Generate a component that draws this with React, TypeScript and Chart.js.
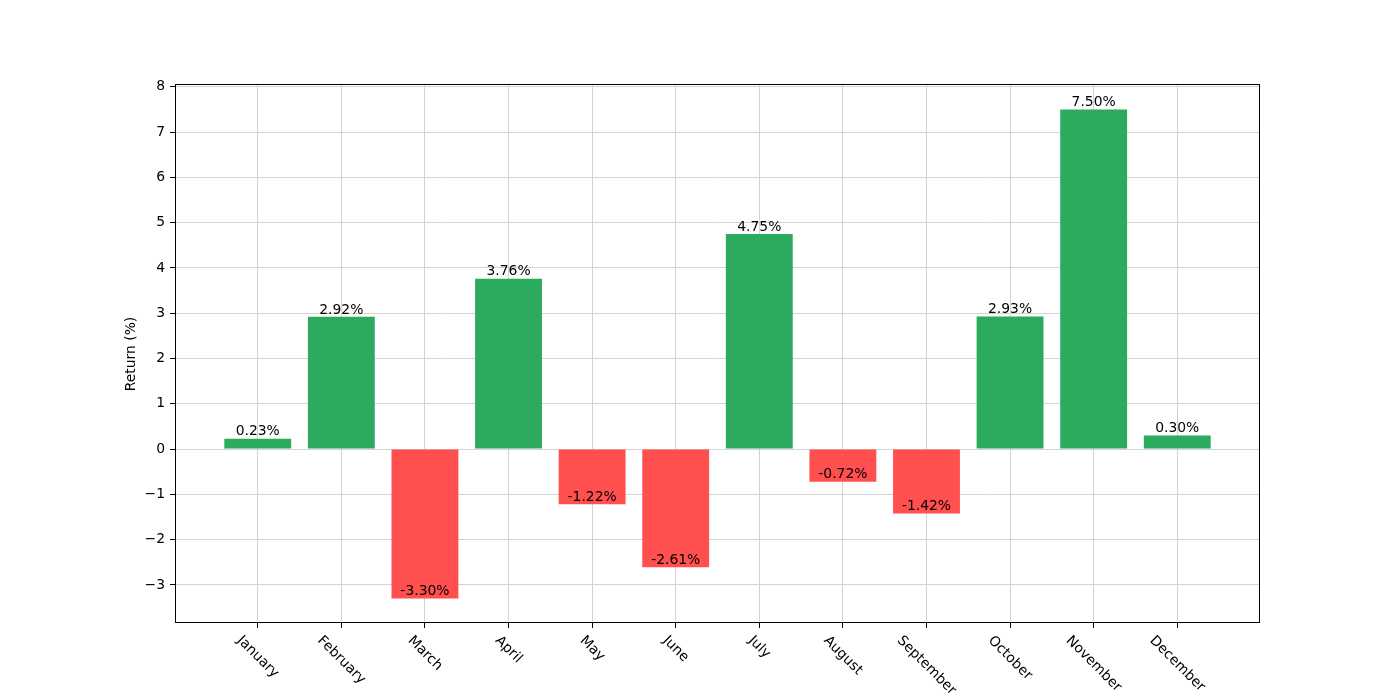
import React, { useEffect, useRef } from "react";
import { Chart, registerables } from "chart.js";

Chart.register(...registerables);

const months = [
  "January", "February", "March", "April", "May", "June",
  "July", "August", "September", "October", "November", "December",
];
const returns = [0.23, 2.92, -3.3, 3.76, -1.22, -2.61, 4.75, -0.72, -1.42, 2.93, 7.5, 0.3];
const yTicks = [-3, -2, -1, 0, 1, 2, 3, 4, 5, 6, 7, 8];
const yTitle = "Return (%)";

const GREEN = "#2caa5e";
const RED = "#ff4f4f";
const FONT = "'DejaVu Sans', sans-serif";
const FS = 13.9;

const overlay = {
  id: "overlay",
  afterDatasetsDraw(chart: any) {
    const { ctx, chartArea: a, scales } = chart;
    const x = scales.x;
    const y = scales.y;
    ctx.save();
    ctx.font = `${FS}px ${FONT}`;
    ctx.fillStyle = "#000";
    // value labels
    ctx.textAlign = "center";
    ctx.textBaseline = "bottom";
    returns.forEach((v, i) => {
      ctx.fillText(`${v.toFixed(2)}%`, x.getPixelForValue(i), y.getPixelForValue(v));
    });
    // spines
    ctx.strokeStyle = "#000";
    ctx.lineWidth = 1;
    const l = Math.round(a.left) + 0.5;
    const r = Math.round(a.right) - 0.5;
    const t = Math.round(a.top) - 0.5;
    const b = Math.round(a.bottom) - 0.5;
    ctx.strokeRect(l, t, r - l, b - t);
    // rotated x labels
    ctx.textAlign = "center";
    ctx.textBaseline = "middle";
    months.forEach((m, i) => {
      const w = ctx.measureText(m).width;
      const h = 16;
      const s = (w + h) * Math.SQRT1_2;
      const cx = x.getPixelForValue(i);
      const cy = a.bottom + 9.7 + s / 2;
      ctx.save();
      ctx.translate(cx, cy);
      ctx.rotate(Math.PI / 4);
      ctx.fillText(m, 0, 0);
      ctx.restore();
    });
    // y title
    ctx.save();
    ctx.translate(131, (a.top + a.bottom) / 2);
    ctx.rotate(-Math.PI / 2);
    ctx.fillText(yTitle, 0, 0);
    ctx.restore();
    ctx.restore();
  },
};

export default function App() {
  const ref = useRef<HTMLCanvasElement>(null);
  useEffect(() => {
    if (!ref.current) return;
    const chart = new Chart(ref.current, {
      type: "bar",
      data: {
        datasets: [
          {
            data: returns.map((v, i) => ({ x: i, y: v })),
            backgroundColor: returns.map((v) => (v >= 0 ? GREEN : RED)),
            borderWidth: 0,
            barPercentage: 0.8,
            categoryPercentage: 1.0,
          },
        ],
      },
      options: {
        animation: false,
        responsive: false,
        devicePixelRatio: 1,
        layout: { padding: { left: 0, right: 140, top: 85, bottom: 0 } },
        plugins: { legend: { display: false }, tooltip: { enabled: false } },
        scales: {
          x: {
            type: "linear",
            offset: false,
            min: -0.99,
            max: 11.99,
            afterBuildTicks: (s: any) => {
              s.ticks = months.map((_, i) => ({ value: i }));
            },
            afterFit: (s: any) => {
              s.height = 77;
            },
            ticks: { display: false },
            grid: {
              offset: false,
              color: "#d3d3d3",
              lineWidth: 1,
              drawTicks: true,
              tickLength: 5,
              tickColor: "#000",
              tickWidth: 1,
            },
            border: { display: false },
          },
          y: {
            type: "linear",
            min: -3.84,
            max: 8.04,
            afterBuildTicks: (s: any) => {
              s.ticks = yTicks.map((v) => ({ value: v }));
            },
            afterFit: (s: any) => {
              s.width = 175;
            },
            ticks: {
              color: "#000",
              font: { family: FONT, size: FS },
              padding: 5,
              callback: (v: any) => String(v).replace("-", "\u2212"),
            },
            grid: {
              color: "#d3d3d3",
              lineWidth: 1,
              drawTicks: true,
              tickLength: 5,
              tickColor: "#000",
              tickWidth: 1,
            },
            border: { display: false },
          },
        },
      },
      plugins: [overlay],
    });
    return () => chart.destroy();
  }, []);
  return (
    <div style={{ position: "absolute", left: 0, top: 0, width: 1400, height: 700, background: "#fff" }}>
      <canvas ref={ref} width={1400} height={700} style={{ display: "block", width: 1400, height: 700 }} />
    </div>
  );
}
